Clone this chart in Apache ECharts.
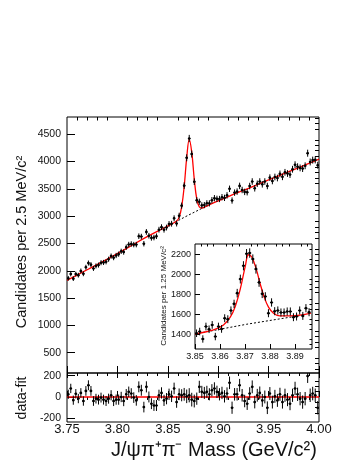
<!DOCTYPE html>
<html>
<head>
<meta charset="utf-8">
<script src="https://cdn.jsdelivr.net/npm/echarts@6/dist/echarts.min.js"></script>
<style>
  html, body { margin: 0; padding: 0; background: #fff; }
  #chart { width: 360px; height: 466px; }
</style>
</head>
<body>
<div id="chart"></div>
<script>
// main histogram: 2.5 MeV bins from 3.75 GeV
const mainBinLo = 3.75
const mainBinWidth = 0.0025
const mainCounts = [
  1862, 1942, 1856, 1940, 1920, 1997, 1945, 2065,
  2142, 2113, 2043, 2089, 2105, 2148, 2153, 2165,
  2212, 2269, 2241, 2280, 2305, 2356, 2343, 2432,
  2481, 2491, 2480, 2480, 2633, 2627, 2496, 2712,
  2642, 2603, 2609, 2633, 2753, 2799, 2752, 2792,
  2857, 2862, 2961, 2865, 3008, 3193, 3560, 4070,
  4423, 4139, 3632, 3292, 3264, 3198, 3203, 3236,
  3235, 3293, 3330, 3318, 3315, 3348, 3336, 3382,
  3502, 3287, 3432, 3451, 3555, 3480, 3445, 3439,
  3553, 3635, 3511, 3594, 3635, 3584, 3635, 3553,
  3706, 3645, 3718, 3699, 3775, 3721, 3804, 3782,
  3762, 3860, 3943, 3907, 3885, 3872, 3923, 4154,
  3993, 4028, 4031, 3933
]
// data - fit, same bins
const residuals = [
  25, 80, -30, 30, -15, 38, -38, 57, 110, 57,
  -38, -16, -25, -6, -25, -38, -16, 16, -38, -25,
  -25, 0, -38, 25, 48, 32, -6, -32, 95, 63,
  -95, 95, 0, -63, -80, -80, 16, 38, -32, -16,
  25, 6, 80, -48, 25, 16, 25, 6, 16, -25,
  -38, -16, 95, 48, 38, 48, 25, 63, 80, 48,
  25, 38, 6, 32, 133, -101, 25, 25, 110, 16,
  -38, -63, 32, 95, -48, 16, 38, -32, 0, -101,
  32, -48, 6, -32, 25, -48, 16, -25, -63, 16,
  80, 25, -16, -48, -16, 196, 16, 32, 16, -101
]
// fit curve and background: [mass, candidates]
const mainFit = [
  [3.75, 1825], [3.77, 2020], [3.79, 2215], [3.81, 2420], [3.83, 2630],
  [3.85, 2820], [3.8588, 2913], [3.8613, 2983], [3.8638, 3177], [3.8663, 3550],
  [3.8688, 4080], [3.8713, 4407], [3.8738, 4164], [3.8763, 3670], [3.8788, 3308],
  [3.8813, 3169], [3.8838, 3150], [3.89, 3200], [3.91, 3360], [3.93, 3511],
  [3.95, 3664], [3.97, 3816], [3.99, 3967], [4.00, 4044]
]
const mainBkg = [[3.85, 2820], [3.87, 3015], [3.89, 3200]]

// inset: 1.25 MeV bins from 3.85 GeV
const insetBinLo = 3.85
const insetBinWidth = 0.00125
const insetCounts = [
  1410, 1427, 1353, 1477, 1450, 1493, 1377, 1477, 1453, 1560,
  1550, 1637, 1703, 1810, 1950, 2083, 2203, 2210, 2150, 2050,
  1917, 1803, 1777, 1610, 1717, 1630, 1637, 1617, 1617, 1627,
  1627, 1570, 1577, 1637, 1583, 1660, 1620
]
const insetFit = [
  [3.85, 1403], [3.8574, 1443], [3.8614, 1493], [3.8641, 1570], [3.8661, 1677],
  [3.8681, 1850], [3.8701, 2077], [3.8714, 2193], [3.8727, 2170], [3.8745, 2050],
  [3.876, 1910], [3.8776, 1777], [3.8794, 1670], [3.8814, 1610], [3.884, 1583],
  [3.888, 1583], [3.892, 1590], [3.8964, 1610]
]
const insetBkg = [[3.85, 1403], [3.8707, 1500], [3.893, 1590]]

// tick positions
const mainYTicks = [500, 1000, 1500, 2000, 2500, 3000, 3500, 4000, 4500]
const mainYMinor = [
  200, 300, 400, 600, 700, 800, 900, 1100, 1200, 1300, 1400, 1600, 1700, 1800, 1900,
  2100, 2200, 2300, 2400, 2600, 2700, 2800, 2900, 3100, 3200, 3300, 3400,
  3600, 3700, 3800, 3900, 4100, 4200, 4300, 4400, 4600, 4700, 4800
]
const massTicks = [3.75, 3.80, 3.85, 3.90, 3.95, 4.00]
const massMinor = [
  3.76, 3.77, 3.78, 3.79, 3.81, 3.82, 3.83, 3.84, 3.86, 3.87, 3.88, 3.89,
  3.91, 3.92, 3.93, 3.94, 3.96, 3.97, 3.98, 3.99
]
const residTicks = [-200, 0, 200]
const residMinor = [-150, -100, -50, 50, 100, 150]
const insetYTicks = [1400, 1600, 1800, 2000, 2200]
const insetYMinor = [1300, 1350, 1450, 1500, 1550, 1650, 1700, 1750, 1850, 1900, 1950, 2050, 2100, 2150, 2250]
const insetXTicks = [3.85, 3.86, 3.87, 3.88, 3.89]
const insetXMinor = [3.8525, 3.855, 3.8575, 3.8625, 3.865, 3.8675, 3.8725, 3.875, 3.8775,
  3.8825, 3.885, 3.8875, 3.8925, 3.895]

const FONT = '"Liberation Sans", Arial, sans-serif'

const mainPoints = mainCounts.map((v, i) => [mainBinLo + mainBinWidth * (i + 0.5), v, Math.sqrt(v)])
const residPoints = residuals.map((v, i) => [mainBinLo + mainBinWidth * (i + 0.5), v, Math.sqrt(mainCounts[i])])
const insetPoints = insetCounts.map((v, i) => [insetBinLo + insetBinWidth * (i + 0.5), v, Math.sqrt(v)])

function errorBars(halfWidth) {
  return (params, api) => {
    const x = api.value(0)
    const y = api.value(1)
    const e = api.value(2)
    const top = api.coord([x, y + e])
    const bot = api.coord([x, y - e])
    const l = api.coord([x - halfWidth, y])
    const r = api.coord([x + halfWidth, y])
    const c = api.coord([x, y])
    const style = { stroke: '#000', lineWidth: 1 }
    return {
      type: 'group',
      children: [
        { type: 'line', shape: { x1: top[0], y1: top[1], x2: bot[0], y2: bot[1] }, style },
        { type: 'line', shape: { x1: l[0], y1: l[1], x2: r[0], y2: r[1] }, style },
        { type: 'circle', shape: { cx: c[0], cy: c[1], r: 1.3 }, style: { fill: '#000' } }
      ]
    }
  }
}

function valueAxis(opt) {
  return Object.assign({
    type: 'value',
    splitLine: { show: false },
    axisLine: { show: false },
    axisLabel: { show: false },
    axisTick: { show: false }
  }, opt)
}

function ticks(values, length) {
  return { show: true, inside: true, length, customValues: values, lineStyle: { color: '#000', width: 1 } }
}

const plain = (v) => String(v)
const twoDp = (v) => v.toFixed(2)

const chart = echarts.init(document.getElementById('chart'))

chart.setOption({
  animation: false,
  backgroundColor: '#fff',
  grid: [
    { left: 67, top: 117, width: 252, height: 256, show: true, borderColor: '#000', borderWidth: 1 },
    { left: 67, top: 373, width: 252, height: 49, show: true, borderColor: '#000', borderWidth: 1 },
    { left: 195, top: 244, width: 117, height: 105, show: true, borderColor: '#000', borderWidth: 1,
      backgroundColor: '#fff', z: 10 }
  ],
  xAxis: [
    valueAxis({ gridIndex: 0, min: 3.75, max: 4.0, axisTick: ticks(massTicks, 7) }),
    valueAxis({ gridIndex: 0, min: 3.75, max: 4.0, axisTick: ticks(massMinor, 3.5) }),
    valueAxis({
      gridIndex: 1, min: 3.75, max: 4.0, axisTick: ticks(massTicks, 6),
      axisLabel: { show: true, customValues: massTicks, formatter: twoDp,
        margin: 1, fontSize: 13, fontFamily: FONT, color: '#111' }
    }),
    valueAxis({ gridIndex: 1, min: 3.75, max: 4.0, axisTick: ticks(massMinor, 3) }),
    valueAxis({ gridIndex: 1, min: 3.75, max: 4.0, position: 'top', axisTick: ticks(massTicks, 5) }),
    valueAxis({ gridIndex: 1, min: 3.75, max: 4.0, position: 'top', axisTick: ticks(massMinor, 3) }),
    valueAxis({
      gridIndex: 2, min: 3.85, max: 3.8968, z: 12, axisTick: ticks(insetXTicks, 5),
      axisLabel: { show: true, customValues: insetXTicks, formatter: twoDp,
        margin: 3, fontSize: 9, fontFamily: FONT, color: '#111' }
    }),
    valueAxis({ gridIndex: 2, min: 3.85, max: 3.8968, z: 12, axisTick: ticks(insetXMinor, 2.5) })
  ],
  yAxis: [
    valueAxis({
      gridIndex: 0, min: 128, max: 4817, axisTick: ticks(mainYTicks, 8),
      axisLabel: { show: true, customValues: mainYTicks, formatter: plain, margin: 6, fontSize: 10.5, fontFamily: FONT, color: '#111' }
    }),
    valueAxis({ gridIndex: 0, min: 128, max: 4817, axisTick: ticks(mainYMinor, 4) }),
    valueAxis({
      gridIndex: 1, min: -235, max: 225, axisTick: ticks(residTicks, 8),
      axisLabel: { show: true, customValues: residTicks, formatter: plain, margin: 6, fontSize: 10.5, fontFamily: FONT, color: '#111' }
    }),
    valueAxis({ gridIndex: 1, min: -235, max: 225, axisTick: ticks(residMinor, 4) }),
    valueAxis({
      gridIndex: 2, min: 1253, max: 2300, z: 12, axisTick: ticks(insetYTicks, 5),
      axisLabel: { show: true, customValues: insetYTicks, formatter: plain, margin: 4, fontSize: 9, fontFamily: FONT, color: '#111' }
    }),
    valueAxis({ gridIndex: 2, min: 1253, max: 2300, z: 12, axisTick: ticks(insetYMinor, 2.5) })
  ],
  graphic: [
    { type: 'text', x: 22, y: 242, rotation: Math.PI / 2,
      style: { text: 'Candidates per 2.5 MeV/c²', fontSize: 14.5, fontFamily: FONT, fill: '#111', align: 'center', verticalAlign: 'middle' } },
    { type: 'text', x: 22, y: 398, rotation: Math.PI / 2,
      style: { text: 'data-fit', fontSize: 14, fontFamily: FONT, fill: '#111', align: 'center', verticalAlign: 'middle' } },
    { type: 'text', x: 214, y: 450,
      style: { text: 'J/ψπ⁺π⁻ Mass (GeV/c²)', fontSize: 20, fontFamily: FONT, fill: '#111', align: 'center', verticalAlign: 'middle' } },
    { type: 'text', x: 164, y: 296, rotation: Math.PI / 2,
      style: { text: 'Candidates per 1.25 MeV/c²', fontSize: 8, fontFamily: FONT, fill: '#111', align: 'center', verticalAlign: 'middle' } }
  ],
  series: [
    {
      name: 'bkg', type: 'line', xAxisIndex: 0, yAxisIndex: 0, data: mainBkg, symbol: 'none',
      lineStyle: { color: '#000', width: 1, type: [2, 2] }, z: 3
    },
    {
      name: 'fit', type: 'line', xAxisIndex: 0, yAxisIndex: 0, data: mainFit, symbol: 'none',
      smooth: 0.4, lineStyle: { color: '#ff0000', width: 1.3 }, z: 4
    },
    {
      name: 'data', type: 'custom', xAxisIndex: 0, yAxisIndex: 0, data: mainPoints,
      renderItem: errorBars(mainBinWidth / 2), clip: true, z: 5
    },
    {
      name: 'zero', type: 'line', xAxisIndex: 2, yAxisIndex: 2, data: [[3.75, 0], [4.0, 0]], symbol: 'none',
      lineStyle: { color: '#ff0000', width: 1.5 }, z: 4
    },
    {
      name: 'residual', type: 'custom', xAxisIndex: 2, yAxisIndex: 2, data: residPoints,
      renderItem: errorBars(mainBinWidth / 2), clip: true, z: 5
    },
    {
      name: 'inset bkg', type: 'line', xAxisIndex: 6, yAxisIndex: 4, data: insetBkg, symbol: 'none',
      lineStyle: { color: '#000', width: 1, type: [2, 2] }, z: 13
    },
    {
      name: 'inset fit', type: 'line', xAxisIndex: 6, yAxisIndex: 4, data: insetFit, symbol: 'none',
      smooth: 0.4, lineStyle: { color: '#ff0000', width: 1.3 }, z: 14
    },
    {
      name: 'inset data', type: 'custom', xAxisIndex: 6, yAxisIndex: 4, data: insetPoints,
      renderItem: errorBars(insetBinWidth / 2), clip: true, z: 15
    }
  ]
})
</script>
</body>
</html>
